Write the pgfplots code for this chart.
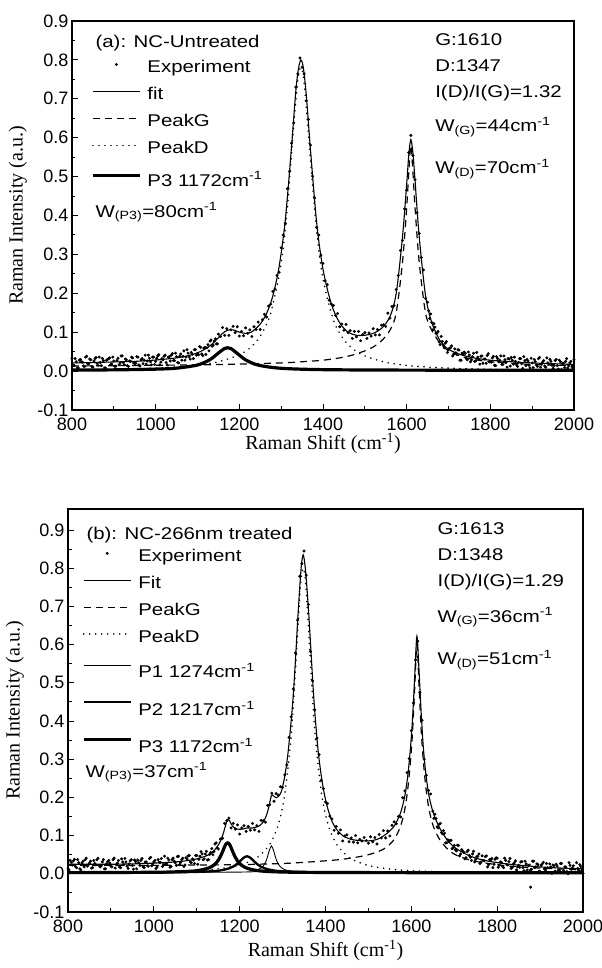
\documentclass[border=0pt]{standalone}
\usepackage{fontspec}
\setmainfont{Liberation Sans}
\newfontfamily\serif{Liberation Serif}
\newfontfamily\lfam{Liberation Sans}[FakeStretch=1.2]
\usepackage{pgfplots}
\pgfplotsset{compat=1.18}

\newcommand\tf{\fontsize{18bp}{21bp}\selectfont}
\newcommand\lf{\lfam\fontsize{17bp}{20bp}\selectfont}
\newcommand\rn{\rule[-5bp]{0pt}{22.5bp}}
\newcommand\rs[1]{\rule[-5bp]{0pt}{#1}}

\pgfplotsset{
  raman/.style={
    scale only axis,
    xmin=800, xmax=2000,
    xtick={800,1000,1200,1400,1600,1800,2000},
    ytick={-0.1,0,0.1,0.2,0.3,0.4,0.5,0.6,0.7,0.8,0.9},
    minor x tick num=1, minor y tick num=1,
    tick pos=left, tick align=inside,
    major tick length=6bp, minor tick length=3.5bp,
    every tick/.style={black, line width=1bp},
    axis line style={line width=1.3bp},
    tick label style={font=\tf},
    xticklabel style={yshift=-4bp},
    /pgf/number format/assume math mode=true,
    /pgf/number format/set thousands separator={},
    yticklabel={\pgfmathprintnumber[fixed,fixed zerofill,precision=1]{\tick}},
    ylabel={\serif Raman Intensity (a.u.)},
    xlabel={\serif Raman Shift (cm\textsuperscript{-1})},
    label style={font=\fontsize{20bp}{23bp}\selectfont},
    legend cell align=left,
    legend image code/.code={\draw[mark repeat=2,mark phase=2,#1]
      plot coordinates {(0bp,0bp) (23.5bp,0bp) (47bp,0bp)};},
    legend style={draw=none, fill=none, inner sep=0pt, row sep=8bp, column sep=6bp,
      font=\lf, nodes={inner sep=0pt}},
  },
  exp/.style={only marks, mark=*, mark size=1.3bp, black},
  fitl/.style={black, line width=1.1bp, smooth},
  pg/.style={black, line width=1.2bp, dash pattern=on 7bp off 5bp, smooth},
  pd/.style={black, line width=1.8bp, line cap=round, dash pattern=on 0.01bp off 6bp, smooth},
}

\begin{document}
\begin{tikzpicture}
% ---------------- (a) ----------------
\begin{axis}[raman, at={(72bp,558bp)}, anchor=south west,
  width=502bp, height=389bp, ymin=-0.1, ymax=0.9,
  ylabel style={at={(axis description cs:-0.108,0.5)}, anchor=center},
  xlabel style={at={(axis description cs:0.5,-0.086)}, anchor=center},
  legend style={at={(axis description cs:0.038,0.913)}, anchor=north west}]
\addplot[exp] coordinates {
(800,.033)(805,.014)(810,.024)(815,.008)(820,.030)(825,.023)(830,.012)(835,.038)(840,.019)(845,.029)
(850,.010)(855,.032)(860,.020)(865,.036)(870,.014)(875,.027)(880,.008)(885,.030)(890,.034)(895,.018)
(900,.026)(905,.013)(910,.033)(915,.021)(920,.039)(925,.016)(930,.029)(935,.012)(940,.025)(945,.034)
(950,.020)(955,.037)(960,.016)(965,.029)(970,.019)(975,.041)(980,.026)(985,.033)(990,.016)(995,.036)
(1000,.025)(1005,.039)(1010,.016)(1015,.032)(1020,.038)(1025,.022)(1030,.036)(1035,.026)(1040,.045)(1045,.027)
(1050,.037)(1055,.021)(1060,.044)(1065,.038)(1070,.028)(1075,.055)(1080,.037)(1085,.048)(1090,.032)(1095,.055)
(1100,.045)(1105,.063)(1110,.044)(1115,.059)(1120,.043)(1125,.068)(1130,.077)(1135,.064)(1140,.077)(1145,.070)
(1150,.095)(1155,.089)(1160,.112)(1165,.092)(1170,.109)(1175,.092)(1180,.106)(1185,.115)(1190,.099)(1195,.114)
(1200,.090)(1205,.102)(1210,.091)(1215,.111)(1220,.097)(1225,.106)(1230,.089)(1235,.114)(1240,.107)(1245,.126)
(1250,.107)(1255,.132)(1260,.146)(1265,.139)(1270,.167)(1275,.172)(1280,.205)(1285,.211)(1290,.246)(1295,.254)
(1300,.317)(1305,.350)(1310,.380)(1315,.469)(1320,.513)(1325,.586)(1330,.638)(1335,.730)(1340,.764)(1345,.805)
(1350,.781)(1355,.764)(1360,.695)(1365,.647)(1370,.581)(1375,.501)(1380,.445)(1385,.369)(1390,.350)(1395,.298)
(1400,.277)(1405,.232)(1410,.222)(1415,.182)(1420,.172)(1425,.169)(1430,.143)(1435,.148)(1440,.114)(1445,.121)
(1450,.105)(1455,.120)(1460,.099)(1465,.104)(1470,.084)(1475,.102)(1480,.088)(1485,.102)(1490,.078)(1495,.094)
(1500,.099)(1505,.084)(1510,.098)(1515,.090)(1520,.109)(1525,.093)(1530,.107)(1535,.093)(1540,.118)(1545,.119)
(1550,.115)(1555,.149)(1560,.136)(1565,.166)(1570,.168)(1575,.210)(1580,.246)(1585,.310)(1590,.336)(1595,.417)
(1600,.465)(1605,.562)(1610,.606)(1615,.554)(1620,.492)(1625,.407)(1630,.354)(1635,.292)(1640,.260)(1645,.187)
(1650,.177)(1655,.135)(1660,.125)(1665,.122)(1670,.097)(1675,.102)(1680,.068)(1685,.076)(1690,.060)(1695,.076)
(1700,.055)(1705,.060)(1710,.039)(1715,.057)(1720,.043)(1725,.054)(1730,.028)(1735,.043)(1740,.046)(1745,.029)
(1750,.041)(1755,.029)(1760,.046)(1765,.026)(1770,.036)(1775,.018)(1780,.039)(1785,.031)(1790,.020)(1795,.045)
(1800,.024)(1805,.034)(1810,.015)(1815,.037)(1820,.024)(1825,.039)(1830,.017)(1835,.029)(1840,.010)(1845,.031)
(1850,.035)(1855,.018)(1860,.025)(1865,.012)(1870,.032)(1875,.019)(1880,.037)(1885,.014)(1890,.026)(1895,.008)
(1900,.021)(1905,.030)(1910,.016)(1915,.032)(1920,.010)(1925,.023)(1930,.013)(1935,.034)(1940,.018)(1945,.025)
(1950,.007)(1955,.027)(1960,.014)(1965,.028)(1970,.004)(1975,.020)(1980,.025)(1985,.008)(1990,.021)(1995,.011)
(2000,.029)};
\addlegendentry{\rn Experiment}
\addplot[fitl] coordinates {
(800,.021)(850,.022)(900,.0235)(950,.025)(1000,.0285)(1050,.034)(1075,.039)(1100,.047)(1125,.061)(1140,.075)
(1150,.086)(1160,.097)(1172,.105)(1185,.106)(1200,.100)(1215,.097)(1230,.101)(1250,.121)(1265,.148)(1280,.193)
(1295,.268)(1310,.390)(1325,.580)(1335,.720)(1341,.775)(1347,.800)(1353,.780)(1360,.710)(1370,.570)(1385,.380)
(1400,.262)(1420,.172)(1440,.124)(1460,.100)(1480,.092)(1500,.092)(1520,.097)(1540,.110)(1560,.140)(1575,.200)
(1590,.345)(1600,.480)(1605,.555)(1610,.595)(1615,.560)(1620,.490)(1630,.345)(1645,.195)(1660,.125)(1680,.078)
(1700,.056)(1730,.042)(1760,.034)(1800,.028)(1850,.024)(1900,.021)(1950,.019)(2000,.017)};
\addlegendentry{\rn fit}
\addplot[pg] coordinates {
(800,.013)(900,.014)(1000,.015)(1100,.016)(1200,.018)(1300,.021)(1350,.024)(1400,.028)(1440,.034)(1470,.041)
(1500,.052)(1520,.062)(1540,.078)(1560,.105)(1575,.150)(1590,.280)(1600,.420)(1605,.510)(1610,.580)(1615,.510)
(1620,.420)(1630,.280)(1645,.150)(1660,.105)(1680,.072)(1700,.052)(1730,.038)(1760,.030)(1800,.024)(1850,.020)
(1900,.017)(2000,.014)};
\addlegendentry{\rn PeakG}
\addplot[pd] coordinates {
(800,.0032)(900,.0048)(1000,.0079)(1050,.0107)(1100,.0154)(1150,.0239)(1200,.0419)(1225,.059)(1250,.0899)(1275,.149)
(1300,.278)(1315,.425)(1330,.631)(1340,.750)(1347,.780)(1355,.741)(1370,.545)(1385,.358)(1400,.237)(1425,.131)
(1450,.0807)(1475,.0543)(1500,.039)(1550,.0225)(1600,.0146)(1650,.0103)(1700,.0076)(1800,.0046)(1900,.0031)(2000,.0022)};
\addlegendentry{\rn PeakD}
\addplot[black, line width=3.2bp, smooth] coordinates {
(800,.0027)(900,.0032)(1000,.005)(1050,.0076)(1100,.0157)(1130,.0296)(1150,.0465)(1165,.0583)(1172,.060)(1180,.0578)
(1195,.0456)(1215,.0289)(1245,.0154)(1300,.0072)(1400,.0037)(1600,.0025)(2000,.0022)};
\addlegendentry{\rs{28bp}P3 1172cm\textsuperscript{-1}}
% more experimental points in the flat parts
\addplot[exp, forget plot] coordinates {
(802.5,.016)(807.5,.032)(812.5,.008)(817.5,.028)(822.5,.024)(827.5,.013)(832.5,.036)(837.5,.019)(842.5,.031)(847.5,.012)
(852.5,.026)(857.5,.035)(862.5,.015)(867.5,.022)(872.5,.033)(877.5,.008)(882.5,.028)(887.5,.032)(892.5,.017)(897.5,.036)
(902.5,.012)(907.5,.027)(912.5,.016)(917.5,.039)(922.5,.022)(927.5,.031)(932.5,.014)(937.5,.026)(942.5,.036)(947.5,.021)
(952.5,.020)(957.5,.036)(962.5,.013)(967.5,.032)(972.5,.028)(977.5,.018)(982.5,.041)(987.5,.024)(992.5,.036)(997.5,.017)
(1002.5,.033)(1007.5,.042)(1012.5,.023)(1017.5,.029)(1022.5,.041)(1027.5,.016)(1032.5,.037)(1037.5,.041)(1042.5,.027)(1047.5,.046)
(1052.5,.022)(1057.5,.038)(1062.5,.028)(1067.5,.052)(1072.5,.036)(1077.5,.046)(1082.5,.031)(1087.5,.043)(1092.5,.055)(1097.5,.041)
(1102.5,.042)(1107.5,.061)(1112.5,.040)(1117.5,.061)(1122.5,.060)(1127.5,.052)(1132.5,.080)(1137.5,.067)(1142.5,.083)(1147.5,.070)
(1652.5,.155)(1657.5,.147)(1662.5,.106)(1667.5,.113)(1672.5,.098)(1677.5,.075)(1682.5,.089)(1687.5,.067)(1692.5,.072)(1697.5,.048)
(1702.5,.059)(1707.5,.065)(1712.5,.043)(1717.5,.047)(1722.5,.055)(1727.5,.028)(1732.5,.046)(1737.5,.049)(1742.5,.032)(1747.5,.049)
(1752.5,.024)(1757.5,.037)(1762.5,.025)(1767.5,.048)(1772.5,.030)(1777.5,.038)(1782.5,.020)(1787.5,.031)(1792.5,.040)(1797.5,.024)
(1802.5,.023)(1807.5,.038)(1812.5,.014)(1817.5,.032)(1822.5,.028)(1827.5,.017)(1832.5,.039)(1837.5,.022)(1842.5,.032)(1847.5,.013)
(1852.5,.028)(1857.5,.036)(1862.5,.016)(1867.5,.022)(1872.5,.032)(1877.5,.007)(1882.5,.027)(1887.5,.030)(1892.5,.015)(1897.5,.033)
(1902.5,.009)(1907.5,.024)(1912.5,.012)(1917.5,.035)(1922.5,.018)(1927.5,.027)(1932.5,.010)(1937.5,.021)(1942.5,.030)(1947.5,.015)
(1952.5,.014)(1957.5,.030)(1962.5,.005)(1967.5,.024)(1972.5,.020)(1977.5,.009)(1982.5,.032)(1987.5,.014)(1992.5,.025)(1997.5,.006)};
\node[anchor=base west, font=\lf] at (axis cs:848,0.833) {(a): NC-Untreated};
\node[anchor=base west, font=\lf] at (axis cs:848,0.396) {W\textsubscript{(P3)}=80cm\textsuperscript{-1}};
\node[anchor=base west, font=\lf] at (axis cs:1660,0.838) {G:1610};
\node[anchor=base west, font=\lf] at (axis cs:1660,0.771) {D:1347};
\node[anchor=base west, font=\lf] at (axis cs:1660,0.704) {I(D)/I(G)=1.32};
\node[anchor=base west, font=\lf] at (axis cs:1660,0.615) {W\textsubscript{(G)}=44cm\textsuperscript{-1}};
\node[anchor=base west, font=\lf] at (axis cs:1660,0.507) {W\textsubscript{(D)}=70cm\textsuperscript{-1}};
\end{axis}

% ---------------- (b) ----------------
\begin{axis}[raman, at={(68bp,56bp)}, anchor=south west,
  width=515bp, height=403bp, ymin=-0.1, ymax=0.955,
  ylabel style={at={(axis description cs:-0.103,0.5)}, anchor=center},
  xlabel style={at={(axis description cs:0.5,-0.096)}, anchor=center},
  legend style={at={(axis description cs:0.027,0.914)}, anchor=north west}]
\addplot[exp] coordinates {
(800,.013)(805,.035)(810,.023)(815,.038)(820,.016)(825,.029)(830,.010)(835,.033)(840,.037)(845,.020)
(850,.028)(855,.015)(860,.035)(865,.023)(870,.041)(875,.018)(880,.031)(885,.013)(890,.026)(895,.035)
(900,.020)(905,.037)(910,.015)(915,.028)(920,.018)(925,.039)(930,.024)(935,.031)(940,.014)(945,.034)
(950,.022)(955,.036)(960,.013)(965,.029)(970,.035)(975,.018)(980,.031)(985,.021)(990,.040)(995,.021)
(1000,.031)(1005,.014)(1010,.037)(1015,.030)(1020,.019)(1025,.046)(1030,.026)(1035,.036)(1040,.019)(1045,.041)
(1050,.029)(1055,.045)(1060,.024)(1065,.037)(1070,.019)(1075,.042)(1080,.047)(1085,.031)(1090,.039)(1095,.027)
(1100,.048)(1105,.038)(1110,.058)(1115,.037)(1120,.052)(1125,.036)(1130,.051)(1135,.066)(1140,.058)(1145,.081)
(1150,.065)(1155,.091)(1160,.093)(1165,.132)(1170,.139)(1175,.146)(1180,.120)(1185,.132)(1190,.117)(1195,.128)
(1200,.104)(1205,.120)(1210,.126)(1215,.111)(1220,.124)(1225,.114)(1230,.132)(1235,.115)(1240,.126)(1245,.111)
(1250,.140)(1255,.139)(1260,.135)(1265,.179)(1270,.181)(1275,.211)(1280,.190)(1285,.210)(1290,.206)(1295,.228)
(1300,.226)(1305,.259)(1310,.285)(1315,.357)(1320,.411)(1325,.484)(1330,.578)(1335,.664)(1340,.779)(1345,.812)
(1350,.845)(1355,.782)(1360,.705)(1365,.582)(1370,.505)(1375,.429)(1380,.355)(1385,.312)(1390,.245)(1395,.223)
(1400,.188)(1405,.184)(1410,.151)(1415,.144)(1420,.114)(1425,.124)(1430,.106)(1435,.115)(1440,.086)(1445,.099)
(1450,.102)(1455,.084)(1460,.094)(1465,.083)(1470,.100)(1475,.081)(1480,.090)(1485,.086)(1490,.095)(1495,.087)
(1500,.080)(1505,.097)(1510,.084)(1515,.095)(1520,.078)(1525,.103)(1530,.094)(1535,.113)(1540,.094)(1545,.112)
(1550,.099)(1555,.127)(1560,.136)(1565,.131)(1570,.150)(1575,.149)(1580,.199)(1585,.217)(1590,.265)(1595,.302)
(1600,.375)(1605,.447)(1610,.560)(1615,.609)(1620,.475)(1625,.402)(1630,.300)(1635,.258)(1640,.218)(1645,.209)
(1650,.164)(1655,.156)(1660,.123)(1665,.130)(1670,.108)(1675,.113)(1680,.081)(1685,.089)(1690,.087)(1695,.066)
(1700,.074)(1705,.060)(1710,.074)(1715,.052)(1720,.059)(1725,.039)(1730,.058)(1735,.048)(1740,.035)(1745,.059)
(1750,.038)(1755,.046)(1760,.027)(1765,.047)(1770,.034)(1775,.047)(1780,.024)(1785,.036)(1790,.016)(1795,.038)
(1800,.041)(1805,.023)(1810,.030)(1815,.016)(1820,.035)(1825,.023)(1830,.040)(1835,.016)(1840,.029)(1845,.010)
(1850,.022)(1855,.031)(1860,.016)(1865,.033)(1870,.010)(1875,.023)(1878,-.035)(1880,.012)(1885,.033)(1890,.018)(1895,.024)
(1900,.006)(1905,.026)(1910,.013)(1915,.027)(1920,.003)(1925,.018)(1930,.023)(1935,.007)(1940,.020)(1945,.009)
(1950,.027)(1955,.008)(1960,.018)(1965,.000)(1970,.022)(1975,.015)(1980,.004)(1985,.029)(1990,.009)(1995,.019)
(2000,.001)};
\addlegendentry{\rn Experiment}
\addplot[fitl] coordinates {
(800,.025)(850,.025)(900,.025)(950,.026)(1000,.028)(1050,.031)(1080,.035)(1100,.039)(1120,.046)(1130,.051)
(1140,.060)(1150,.075)(1157,.090)(1163,.110)(1168,.130)(1172,.142)(1176,.140)(1180,.131)(1186,.122)(1194,.117)
(1207,.117)(1217,.120)(1230,.120)(1245,.125)(1255,.136)(1262,.152)(1268,.175)(1274,.205)(1279,.204)(1285,.199)
(1290,.202)(1297,.215)(1305,.255)(1312,.310)(1320,.400)(1325,.470)(1330,.560)(1335,.660)(1340,.750)(1344,.810)
(1348,.835)(1352,.810)(1356,.760)(1361,.680)(1366,.585)(1371,.490)(1376,.410)(1383,.320)(1391,.250)(1398,.205)
(1406,.168)(1416,.135)(1426,.116)(1440,.100)(1460,.090)(1480,.087)(1500,.086)(1520,.090)(1540,.103)(1560,.125)
(1575,.160)(1585,.205)(1592,.260)(1598,.330)(1603,.410)(1608,.520)(1613,.622)(1618,.530)(1623,.420)(1628,.330)
(1634,.260)(1641,.205)(1651,.160)(1666,.120)(1686,.085)(1706,.065)(1740,.045)(1780,.033)(1830,.025)(1900,.018)
(1950,.015)(2000,.013)};
\addlegendentry{\rn Fit}
\addplot[pg] coordinates {
(800,.022)(900,.022)(1000,.022)(1100,.023)(1200,.024)(1300,.027)(1350,.030)(1400,.034)(1440,.038)(1480,.045)
(1500,.050)(1520,.057)(1540,.068)(1560,.090)(1575,.125)(1585,.170)(1592,.225)(1598,.295)(1603,.375)(1608,.490)
(1613,.600)(1618,.490)(1623,.375)(1628,.295)(1634,.225)(1641,.170)(1651,.125)(1666,.090)(1686,.063)(1706,.048)
(1740,.035)(1780,.027)(1830,.020)(1900,.015)(2000,.010)};
\addlegendentry{\rn PeakG}
\addplot[pd] coordinates {
(800,.0017)(900,.0026)(1000,.0042)(1100,.0084)(1150,.013)(1200,.023)(1240,.042)(1270,.077)(1290,.129)(1305,.208)
(1320,.362)(1330,.534)(1340,.728)(1344,.781)(1348,.800)(1352,.781)(1356,.728)(1366,.534)(1376,.362)(1391,.208)
(1406,.129)(1426,.077)(1456,.042)(1496,.023)(1546,.013)(1600,.0081)(1700,.0041)(1800,.0026)(2000,.0012)};
\addlegendentry{\rn PeakD}
\addplot[black, line width=0.9bp, smooth] coordinates {
(800,.003)(1200,.0045)(1240,.0096)(1255,.0206)(1262,.035)(1265,.045)(1269,.061)(1274,.073)(1279,.061)(1283,.045)
(1286,.035)(1293,.0206)(1308,.0096)(1348,.0045)(1500,.0032)(2000,.003)};
\addlegendentry{\rs{31bp}P1 1274cm\textsuperscript{-1}}
\addplot[black, line width=2.3bp, smooth] coordinates {
(800,.003)(1000,.0035)(1100,.005)(1150,.008)(1175,.014)(1185,.019)(1195,.027)(1207,.040)(1212,.044)(1217,.046)
(1222,.044)(1227,.040)(1239,.027)(1249,.019)(1259,.014)(1284,.008)(1334,.005)(1400,.0038)(1600,.003)(2000,.003)};
\addlegendentry{\rs{33bp}P2 1217cm\textsuperscript{-1}}
\addplot[black, line width=3.2bp, smooth] coordinates {
(800,.003)(1000,.004)(1060,.0055)(1100,.008)(1130,.016)(1145,.028)(1155,.045)(1162,.063)(1167,.076)(1172,.081)
(1177,.076)(1182,.063)(1189,.045)(1199,.028)(1214,.016)(1244,.008)(1300,.0046)(1400,.0035)(1600,.003)(2000,.003)};
\addlegendentry{\rs{33bp}P3 1172cm\textsuperscript{-1}}
% more experimental points in the flat parts
\addplot[exp, forget plot] coordinates {
(802.5,.010)(807.5,.030)(812.5,.034)(817.5,.019)(822.5,.037)(827.5,.013)(832.5,.028)(837.5,.018)(842.5,.041)(847.5,.024)
(852.5,.033)(857.5,.016)(862.5,.027)(867.5,.037)(872.5,.022)(877.5,.021)(882.5,.037)(887.5,.013)(892.5,.032)(897.5,.028)
(902.5,.018)(907.5,.041)(912.5,.024)(917.5,.035)(922.5,.016)(927.5,.031)(932.5,.040)(937.5,.020)(942.5,.026)(947.5,.037)
(952.5,.012)(957.5,.032)(962.5,.036)(967.5,.022)(972.5,.040)(977.5,.016)(982.5,.031)(987.5,.020)(992.5,.043)(997.5,.026)
(1002.5,.035)(1007.5,.018)(1012.5,.030)(1017.5,.040)(1022.5,.025)(1027.5,.025)(1032.5,.041)(1037.5,.017)(1042.5,.037)(1047.5,.033)
(1052.5,.022)(1057.5,.046)(1062.5,.030)(1067.5,.041)(1072.5,.023)(1077.5,.039)(1082.5,.048)(1087.5,.029)(1092.5,.036)(1097.5,.048)
(1102.5,.025)(1107.5,.046)(1112.5,.052)(1117.5,.039)(1122.5,.059)(1127.5,.037)(1132.5,.056)(1137.5,.050)(1142.5,.078)(1147.5,.068)
(1652.5,.145)(1657.5,.145)(1662.5,.120)(1667.5,.132)(1672.5,.105)(1677.5,.106)(1682.5,.081)(1687.5,.084)(1692.5,.088)(1697.5,.068)
(1702.5,.063)(1707.5,.075)(1712.5,.047)(1717.5,.063)(1722.5,.056)(1727.5,.042)(1732.5,.062)(1737.5,.043)(1742.5,.052)(1747.5,.031)
(1752.5,.045)(1757.5,.052)(1762.5,.031)(1767.5,.035)(1772.5,.045)(1777.5,.018)(1782.5,.037)(1787.5,.040)(1792.5,.025)(1797.5,.042)
(1802.5,.017)(1807.5,.031)(1812.5,.019)(1817.5,.041)(1822.5,.024)(1827.5,.032)(1832.5,.014)(1837.5,.025)(1842.5,.034)(1847.5,.018)
(1852.5,.017)(1857.5,.032)(1862.5,.008)(1867.5,.026)(1872.5,.022)(1877.5,.010)(1882.5,.033)(1887.5,.016)(1892.5,.026)(1897.5,.007)
(1902.5,.022)(1907.5,.030)(1912.5,.010)(1917.5,.016)(1922.5,.026)(1927.5,.001)(1932.5,.021)(1937.5,.025)(1942.5,.009)(1947.5,.027)
(1952.5,.003)(1957.5,.018)(1962.5,.006)(1967.5,.029)(1972.5,.012)(1977.5,.021)(1982.5,.003)(1987.5,.014)(1992.5,.024)(1997.5,.009)};
\node[anchor=base west, font=\lf] at (axis cs:835,0.876) {(b): NC-266nm treated};
\node[anchor=base west, font=\lf] at (axis cs:833,0.253) {W\textsubscript{(P3)}=37cm\textsuperscript{-1}};
\node[anchor=base west, font=\lf] at (axis cs:1653,0.887) {G:1613};
\node[anchor=base west, font=\lf] at (axis cs:1653,0.821) {D:1348};
\node[anchor=base west, font=\lf] at (axis cs:1653,0.753) {I(D)/I(G)=1.29};
\node[anchor=base west, font=\lf] at (axis cs:1653,0.659) {W\textsubscript{(G)}=36cm\textsuperscript{-1}};
\node[anchor=base west, font=\lf] at (axis cs:1653,0.547) {W\textsubscript{(D)}=51cm\textsuperscript{-1}};
\end{axis}
\pgfresetboundingbox
\path[use as bounding box] (0bp,0bp) rectangle (602bp,968bp);
\end{tikzpicture}
\end{document}
